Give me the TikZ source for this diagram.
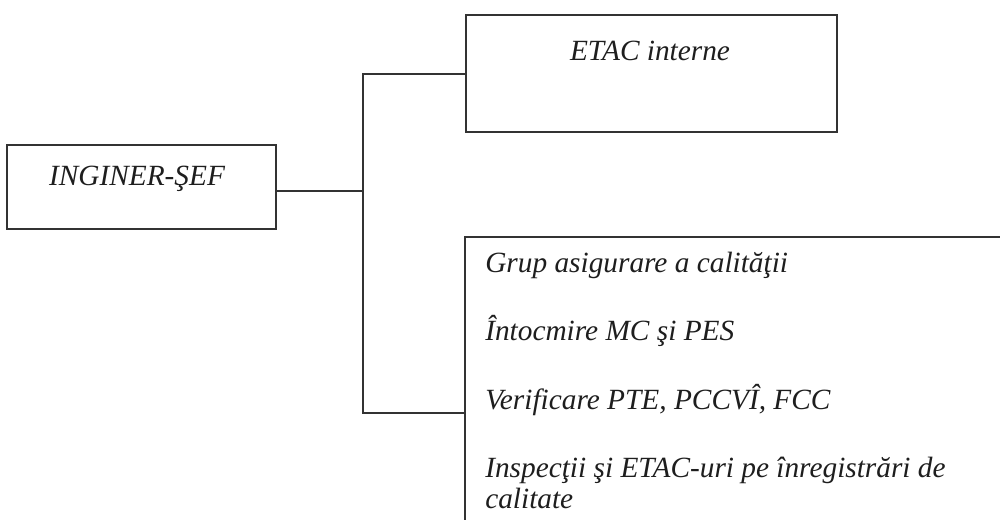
\documentclass[tikz,border=0pt]{standalone}
\usepackage{fontspec}
\setmainfont{Liberation Serif}
\usetikzlibrary{calc}
\definecolor{ink}{HTML}{333333}
\definecolor{txt}{HTML}{1E1E1E}
\tikzset{
  boxed/.style={draw=ink, line width=2pt, rectangle, inner sep=0pt},
  conn/.style={draw=ink, line width=1.5pt},
  lbl/.style={text=txt, font=\fontsize{22}{24}\selectfont\itshape, inner sep=0pt, anchor=base},
  lbll/.style={lbl, anchor=base west}
}
\begin{document}
\begin{tikzpicture}[x=0.75pt, y=-0.75pt]
\useasboundingbox (0,0) rectangle (1000,519);
\fill[white] (0,0) rectangle (1000,519);
\begin{scope}
\clip (0,0) rectangle (1000,519);
% boxes
\node[boxed, minimum width=201.75pt, minimum height=63pt] (ing) at (141.5,187) {};
\node[boxed, minimum width=278.25pt, minimum height=87.75pt] (etac) at (651.5,73.5) {};
\node[boxed, minimum width=409.5pt, minimum height=219.75pt] (qa) at (738,383.5) {};
% texts
\node[lbl] (tIng) at (137,185) {INGINER-ŞEF};
\node[lbl] (tEtac) at (650,60) {ETAC interne};
\node[lbll] (t1) at (485,272) {Grup asigurare a calităţii};
\node[lbll] (t2) at (485,340) {Întocmire MC şi PES};
\node[lbll] (t3) at (485,409) {Verificare PTE, PCCVÎ, FCC};
\node[lbll] (t4) at (485,477) {Inspecţii şi ETAC-uri pe înregistrări de};
\node[lbll] (t5) at (485,508) {calitate};
% connectors
\coordinate (top) at (363,73.5);
\coordinate (mid) at (363,191);
\coordinate (bot) at (363,413);
\draw[conn] (etac.west) -- (top) -- (bot) -- (bot -| qa.west);
\draw[conn] (ing.east |- mid) -- (mid);
\end{scope}
\end{tikzpicture}
\end{document}
